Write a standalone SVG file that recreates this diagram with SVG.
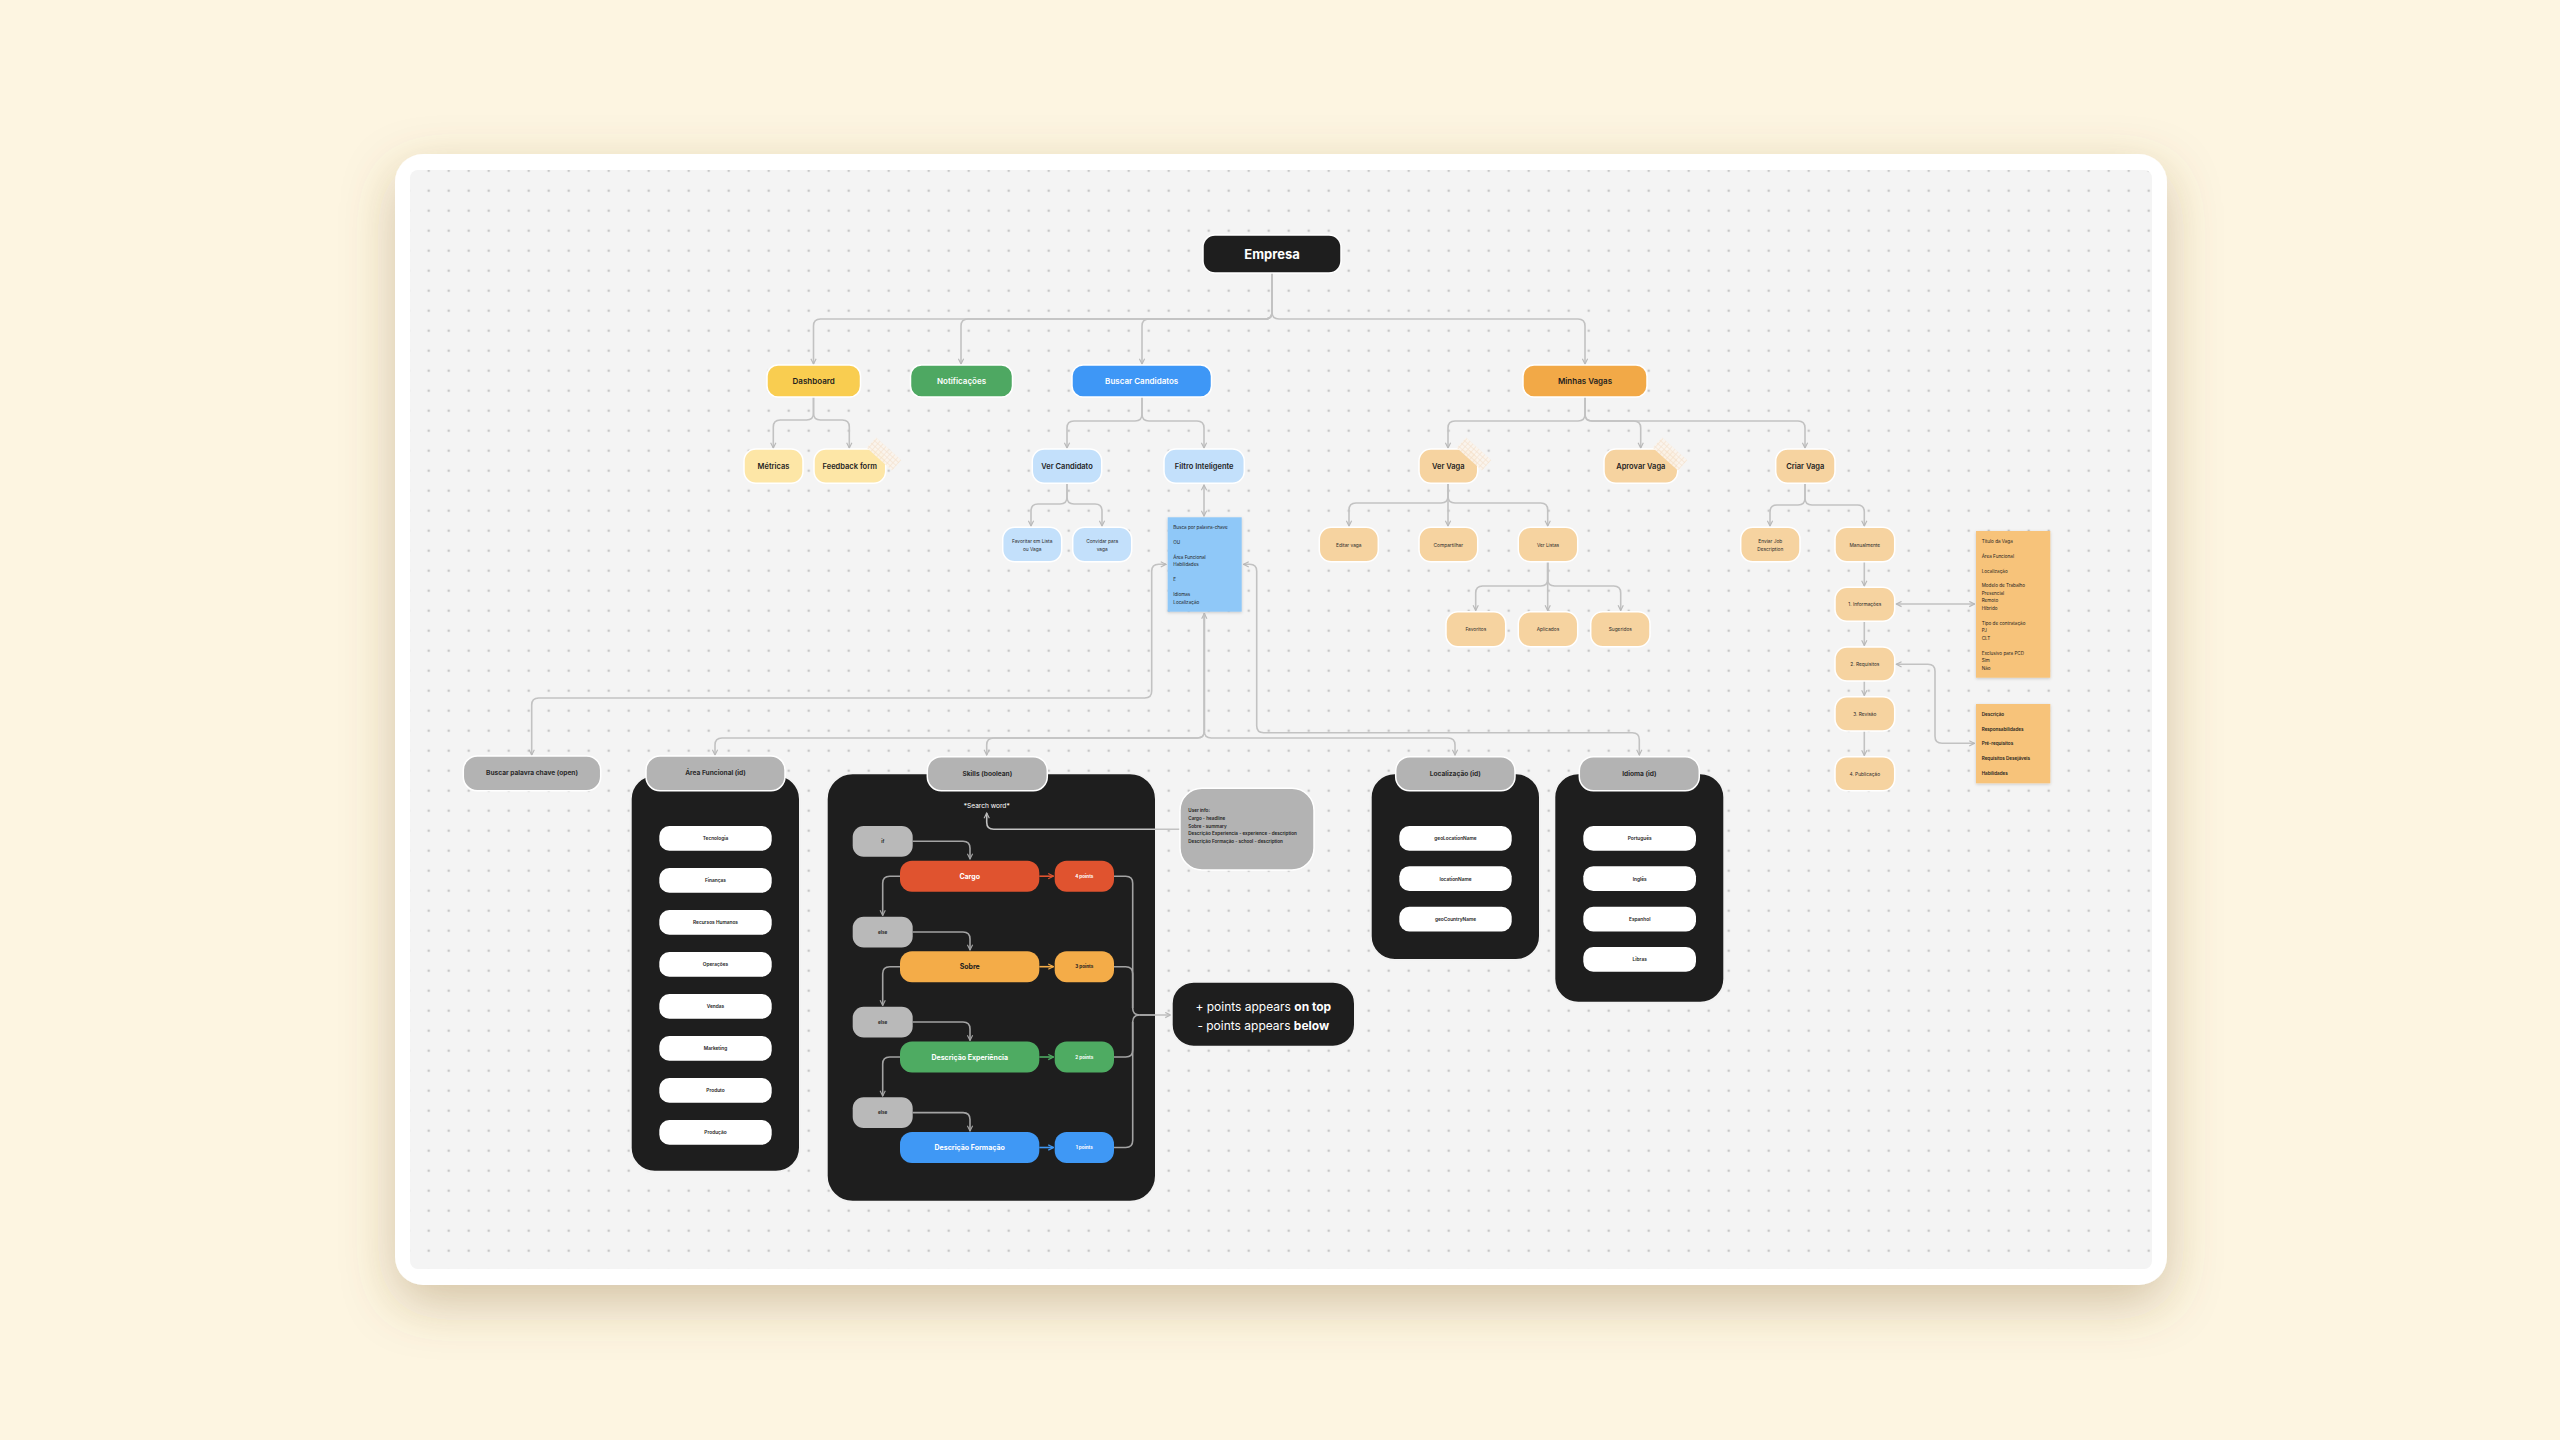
<svg xmlns="http://www.w3.org/2000/svg" width="2560" height="1440" viewBox="0 0 2560 1440">
<defs>
<style>
text{font-family:Inter,"Noto Sans","Liberation Sans",sans-serif;dominant-baseline:central}
.c{fill:none;stroke:#c2c2c2;stroke-width:1.6}
.ci{fill:none;stroke:#a3a3a3;stroke-width:1.6}
.nd{stroke:#ffffff;stroke-width:1.5}
.t0{font-size:13px;font-weight:700;fill:#ffffff;text-anchor:middle}
.t1{font-size:8px;font-weight:600;text-anchor:middle}
.t2{font-size:7.5px;font-weight:600;fill:#1e1e1e;text-anchor:middle}
.t3{font-size:4.8px;fill:#2a2a2a;text-anchor:middle}
.th{font-size:6.6px;font-weight:700;fill:#2b2b2b;text-anchor:middle}
.ti{font-size:4.8px;font-weight:600;fill:#222;text-anchor:middle}
.ts{font-size:7px;font-weight:700;fill:#ffffff;text-anchor:middle}
.tp{font-size:4.6px;font-weight:700;fill:#ffffff;text-anchor:middle}
.te{font-size:4.6px;font-weight:700;fill:#2a2a2a;text-anchor:middle}
.tn{font-size:4.6px;fill:#1e1e1e}
.tb{font-size:4.6px;font-weight:600;fill:#1e1e1e}
.lt{fill:#fde6a6}
.lb{fill:#c3e0fb}
.lo{fill:#f6d3a0}
.hd{fill:#b3b3b3}
.bk{fill:#1e1e1e;stroke:#f2f2f2;stroke-width:2}
.wp{fill:#ffffff}
.gp{fill:#b9b9b9}
</style>
<pattern id="dots" x="418.7" y="160.7" width="20" height="20" patternUnits="userSpaceOnUse"><circle cx="10" cy="10" r="1.3" fill="#c6c6c6"/></pattern>
<pattern id="tapeP" width="4" height="4" patternUnits="userSpaceOnUse"><rect width="4" height="4" fill="#fbf4ec"/><path d="M0,0.5H4M0.5,0V4" stroke="#f3e0cb" stroke-width="0.7"/></pattern>
<filter id="fs" x="-10%" y="-10%" width="120%" height="130%"><feDropShadow dx="0" dy="18" stdDeviation="26" flood-color="#7a5a2a" flood-opacity="0.32"/></filter>
<filter id="ns" x="-20%" y="-20%" width="140%" height="140%"><feDropShadow dx="0" dy="1" stdDeviation="1.5" flood-color="#000" flood-opacity="0.18"/></filter>
<marker id="ar" viewBox="0 0 8 8" refX="7" refY="4" markerWidth="7" markerHeight="7" markerUnits="userSpaceOnUse" orient="auto-start-reverse"><path d="M1,1 L7,4 L1,7" fill="none" stroke="#b8b8b8" stroke-width="1.3"/></marker>
<marker id="ai" viewBox="0 0 8 8" refX="7" refY="4" markerWidth="7" markerHeight="7" markerUnits="userSpaceOnUse" orient="auto-start-reverse"><path d="M1,1 L7,4 L1,7" fill="none" stroke="#a3a3a3" stroke-width="1.3"/></marker>
<marker id="aR" viewBox="0 0 8 8" refX="7" refY="4" markerWidth="7" markerHeight="7" markerUnits="userSpaceOnUse" orient="auto"><path d="M1,1 L7,4 L1,7" fill="none" stroke="#e0532f" stroke-width="1.3"/></marker>
<marker id="aO" viewBox="0 0 8 8" refX="7" refY="4" markerWidth="7" markerHeight="7" markerUnits="userSpaceOnUse" orient="auto"><path d="M1,1 L7,4 L1,7" fill="none" stroke="#f4ac48" stroke-width="1.3"/></marker>
<marker id="aG" viewBox="0 0 8 8" refX="7" refY="4" markerWidth="7" markerHeight="7" markerUnits="userSpaceOnUse" orient="auto"><path d="M1,1 L7,4 L1,7" fill="none" stroke="#4eab62" stroke-width="1.3"/></marker>
<marker id="aB" viewBox="0 0 8 8" refX="7" refY="4" markerWidth="7" markerHeight="7" markerUnits="userSpaceOnUse" orient="auto"><path d="M1,1 L7,4 L1,7" fill="none" stroke="#3f98f5" stroke-width="1.3"/></marker>
</defs>

<rect width="2560" height="1440" fill="#fdf5e1"/>
<rect x="395" y="154" width="1772" height="1131" rx="28" fill="#ffffff" filter="url(#fs)"/>
<rect x="410" y="170" width="1742" height="1099" rx="8" fill="#f4f4f4"/>
<rect x="410" y="170" width="1742" height="1099" rx="8" fill="url(#dots)"/>

<!-- black containers (behind connectors) -->
<g id="skills-box"><rect class="bk" x="826.7" y="773.3" width="329.3" height="428.4" rx="26"/></g>
<g id="area-box"><rect class="bk" x="630.7" y="775" width="169.3" height="396.7" rx="24"/></g>
<g id="loc-box"><rect class="bk" x="1370.7" y="773.3" width="169.3" height="186.7" rx="24"/></g>
<g id="idioma-box"><rect class="bk" x="1554.3" y="773.3" width="170" height="229.4" rx="24"/></g>

<g id="connectors">
<path class="c" marker-end="url(#ar)" d="M1272,273 V312 Q1272,319 1265,319 H820.5 Q813.5,319 813.5,326 V364"/>
<path class="c" marker-end="url(#ar)" d="M1272,273 V312 Q1272,319 1265,319 H968 Q961,319 961,326 V364"/>
<path class="c" marker-end="url(#ar)" d="M1272,273 V312 Q1272,319 1265,319 H1149 Q1142,319 1142,326 V364"/>
<path class="c" marker-end="url(#ar)" d="M1272,273 V312 Q1272,319 1279,319 H1578 Q1585,319 1585,326 V364"/>

<path class="c" marker-end="url(#ar)" d="M813.5,397 V413 Q813.5,420 806.5,420 H780.3 Q773.3,420 773.3,427 V448"/>
<path class="c" marker-end="url(#ar)" d="M813.5,397 V413 Q813.5,420 820.5,420 H842.3 Q849.3,420 849.3,427 V448"/>

<path class="c" marker-end="url(#ar)" d="M1142,397 V414 Q1142,421 1135,421 H1074 Q1067,421 1067,428 V448"/>
<path class="c" marker-end="url(#ar)" d="M1142,397 V414 Q1142,421 1149,421 H1197 Q1204,421 1204,428 V448"/>
<path class="c" marker-end="url(#ar)" d="M1067,483.3 V497 Q1067,504 1060,504 H1038 Q1031,504 1031,511 V526"/>
<path class="c" marker-end="url(#ar)" d="M1067,483.3 V497 Q1067,504 1074,504 H1095 Q1102,504 1102,511 V526"/>
<path class="c" marker-start="url(#ar)" marker-end="url(#ar)" d="M1204,485 V516"/>

<path class="c" marker-start="url(#ar)" marker-end="url(#ar)" d="M1166,564.3 H1158.7 Q1151.7,564.3 1151.7,571.3 V691 Q1151.7,698 1144.7,698 H538.7 Q531.7,698 531.7,705 V755"/>
<path class="c" marker-start="url(#ar)" marker-end="url(#ar)" d="M1204.3,613.5 V731 Q1204.3,738 1197.3,738 H722 Q715,738 715,745 V755"/>
<path class="c" marker-end="url(#ar)" d="M1204.3,613.5 V731 Q1204.3,738 1197.3,738 H993.7 Q986.7,738 986.7,745 V755"/>
<path class="c" marker-end="url(#ar)" d="M1204.3,613.5 V731 Q1204.3,738 1211.3,738 H1448 Q1455,738 1455,745 V755"/>
<path class="c" marker-start="url(#ar)" marker-end="url(#ar)" d="M1243.5,564.3 H1249.7 Q1256.7,564.3 1256.7,571.3 V725.7 Q1256.7,732.7 1263.7,732.7 H1632.3 Q1639.3,732.7 1639.3,739.7 V755"/>

<path class="c" marker-end="url(#ar)" d="M1585,397 V414 Q1585,421 1578,421 H1455 Q1448,421 1448,428 V448"/>
<path class="c" marker-end="url(#ar)" d="M1585,397 V414 Q1585,421 1592,421 H1633.7 Q1640.7,421 1640.7,428 V448"/>
<path class="c" marker-end="url(#ar)" d="M1585,397 V414 Q1585,421 1592,421 H1798 Q1805,421 1805,428 V448"/>
<path class="c" marker-end="url(#ar)" d="M1448,483.3 V496 Q1448,503 1441,503 H1356 Q1349,503 1349,510 V526"/>
<path class="c" marker-end="url(#ar)" d="M1448,483.3 V526"/>
<path class="c" marker-end="url(#ar)" d="M1448,483.3 V496 Q1448,503 1455,503 H1540.7 Q1547.7,503 1547.7,510 V526"/>
<path class="c" marker-end="url(#ar)" d="M1547.7,561.7 V579 Q1547.7,586 1540.7,586 H1482.7 Q1475.7,586 1475.7,593 V610.5"/>
<path class="c" marker-end="url(#ar)" d="M1547.7,561.7 V610.5"/>
<path class="c" marker-end="url(#ar)" d="M1547.7,561.7 V579 Q1547.7,586 1554.7,586 H1613.7 Q1620.7,586 1620.7,593 V610.5"/>

<path class="c" marker-end="url(#ar)" d="M1805,483.3 V498 Q1805,505 1798,505 H1777 Q1770,505 1770,512 V526"/>
<path class="c" marker-end="url(#ar)" d="M1805,483.3 V498 Q1805,505 1812,505 H1857.3 Q1864.3,505 1864.3,512 V526"/>
<path class="c" marker-end="url(#ar)" d="M1864.3,561.7 V586"/>
<path class="c" marker-end="url(#ar)" d="M1864.3,621.3 V645.5"/>
<path class="c" marker-end="url(#ar)" d="M1864.3,681 V695.5"/>
<path class="c" marker-end="url(#ar)" d="M1864.3,731 V755.5"/>
<path class="c" marker-start="url(#ar)" marker-end="url(#ar)" d="M1974.5,604 H1896.3"/>
<path class="c" marker-start="url(#ar)" marker-end="url(#ar)" d="M1974.5,743.3 H1942 Q1935,743.3 1935,736.3 V671.3 Q1935,664.3 1928,664.3 H1896.3"/>

<path class="c" marker-end="url(#ar)" d="M1180,829.3 H993.7 Q986.7,829.3 986.7,822.3 V813"/>

<path class="ci" marker-end="url(#ai)" d="M912.7,841.3 H963 Q970,841.3 970,848.3 V859"/>
<path class="ci" marker-end="url(#ai)" d="M912.7,932 H963 Q970,932 970,939 V950"/>
<path class="ci" marker-end="url(#ai)" d="M912.7,1022 H963 Q970,1022 970,1029 V1040.5"/>
<path class="ci" marker-end="url(#ai)" d="M912.7,1112.6 H963 Q970,1112.6 970,1119.6 V1131"/>
<path class="ci" marker-end="url(#ai)" d="M900,876.2 H889.7 Q882.7,876.2 882.7,883.2 V915.5"/>
<path class="ci" marker-end="url(#ai)" d="M900,966.7 H889.7 Q882.7,966.7 882.7,973.7 V1005.5"/>
<path class="ci" marker-end="url(#ai)" d="M900,1057 H889.7 Q882.7,1057 882.7,1064 V1096"/>
<path fill="none" stroke="#e0532f" stroke-width="1.6" marker-end="url(#aR)" d="M1039.3,876.2 H1053.5"/>
<path fill="none" stroke="#f4ac48" stroke-width="1.6" marker-end="url(#aO)" d="M1039.3,966.7 H1053.5"/>
<path fill="none" stroke="#4eab62" stroke-width="1.6" marker-end="url(#aG)" d="M1039.3,1057 H1053.5"/>
<path fill="none" stroke="#3f98f5" stroke-width="1.6" marker-end="url(#aB)" d="M1039.3,1147.5 H1053.5"/>
<path class="ci" d="M1114,876.2 H1125.7 Q1132.7,876.2 1132.7,883.2 V1008 Q1132.7,1015 1139.7,1015"/>
<path class="ci" d="M1114,966.7 H1125.7 Q1132.7,966.7 1132.7,973.7 V1008"/>
<path class="ci" d="M1114,1057 H1125.7 Q1132.7,1057 1132.7,1050 V1022 Q1132.7,1015 1139.7,1015"/>
<path class="ci" d="M1114,1147.5 H1125.7 Q1132.7,1147.5 1132.7,1140.5 V1022"/>
<path class="c" marker-end="url(#ar)" d="M1139.7,1015 H1170.5"/>
</g>

<g id="empresa"><rect x="1203" y="235" width="138" height="38" rx="12" fill="#1e1e1e" class="nd"/><text class="t0" x="1272" y="254">Empresa</text></g>

<g id="dashboard"><rect class="nd" x="767" y="365" width="93.5" height="32" rx="11" fill="#f9cd50"/><text class="t1" x="813.7" y="381" fill="#1e1e1e">Dashboard</text></g>
<g id="notificacoes"><rect class="nd" x="910.5" y="365" width="102" height="32" rx="11" fill="#4ea862"/><text class="t1" x="961.5" y="381" fill="#ffffff">Notificações</text></g>
<g id="buscar-candidatos"><rect class="nd" x="1072" y="365" width="139.5" height="32" rx="11" fill="#3e97f6"/><text class="t1" x="1141.7" y="381" fill="#ffffff">Buscar Candidatos</text></g>
<g id="minhas-vagas"><rect class="nd" x="1523" y="365" width="124" height="32" rx="11" fill="#f2a947"/><text class="t1" x="1585" y="381" fill="#1e1e1e">Minhas Vagas</text></g>

<g id="metricas"><rect class="lt nd" x="744" y="449" width="59" height="34.3" rx="12"/><text class="t2" x="773.5" y="466">Métricas</text></g>
<g id="feedback-form"><rect class="lt nd" x="814" y="449" width="71.7" height="34.3" rx="12"/><text class="t2" x="849.8" y="466">Feedback form</text><rect x="-17" y="-7" width="34" height="14" fill="url(#tapeP)" opacity="0.9" transform="translate(884,454) rotate(42)"/></g>

<g id="ver-candidato"><rect class="lb nd" x="1032.3" y="449" width="69.4" height="34.3" rx="12"/><text class="t2" x="1067" y="466">Ver Candidato</text></g>
<g id="filtro-inteligente"><rect class="lb nd" x="1164" y="449" width="80.3" height="34.3" rx="12"/><text class="t2" x="1204.2" y="466">Filtro Inteligente</text></g>
<g id="favoritar"><rect class="lb nd" x="1002.7" y="527.3" width="59" height="34.4" rx="12"/><text class="t3" x="1032.2" y="540.7">Favoritar em Lista</text><text class="t3" x="1032.2" y="548.5">ou Vaga</text></g>
<g id="convidar"><rect class="lb nd" x="1072.7" y="527.3" width="59" height="34.4" rx="12"/><text class="t3" x="1102.2" y="540.7">Convidar para</text><text class="t3" x="1102.2" y="548.5">vaga</text></g>

<g id="filtro-nota"><rect x="1167.7" y="517.3" width="74" height="94.4" fill="#8fc8f8" filter="url(#ns)"/>
<text class="tn" x="1173.3" y="527.3">Busca por palavra-chave</text>
<text class="tn" x="1173.3" y="542.3">OU</text>
<text class="tn" x="1173.3" y="557">Área Funcional</text>
<text class="tn" x="1173.3" y="564.7">Habilidades</text>
<text class="tn" x="1173.3" y="579.7">E</text>
<text class="tn" x="1173.3" y="594.7">Idiomas</text>
<text class="tn" x="1173.3" y="602">Localização</text></g>

<g id="ver-vaga"><rect class="lo nd" x="1419" y="449" width="58.7" height="34.3" rx="12"/><text class="t2" x="1448.3" y="466">Ver Vaga</text><rect x="-17" y="-7" width="34" height="14" fill="url(#tapeP)" opacity="0.9" transform="translate(1474,454) rotate(42)"/></g>
<g id="aprovar-vaga"><rect class="lo nd" x="1604" y="449" width="73.7" height="34.3" rx="12"/><text class="t2" x="1640.8" y="466">Aprovar Vaga</text><rect x="-17" y="-7" width="34" height="14" fill="url(#tapeP)" opacity="0.9" transform="translate(1670,454) rotate(42)"/></g>
<g id="criar-vaga"><rect class="lo nd" x="1775.7" y="449" width="59.3" height="34.3" rx="12"/><text class="t2" x="1805.3" y="466">Criar Vaga</text></g>

<g id="editar-vaga"><rect class="lo nd" x="1319.3" y="527.3" width="59" height="34.4" rx="12"/><text class="t3" x="1348.8" y="544.5">Editar vaga</text></g>
<g id="compartilhar"><rect class="lo nd" x="1419" y="527.3" width="58.7" height="34.4" rx="12"/><text class="t3" x="1448.3" y="544.5">Compartilhar</text></g>
<g id="ver-listas"><rect class="lo nd" x="1518.3" y="527.3" width="59.4" height="34.4" rx="12"/><text class="t3" x="1548" y="544.5">Ver Listas</text></g>
<g id="favoritos"><rect class="lo nd" x="1446" y="611.7" width="59.7" height="35" rx="12"/><text class="t3" x="1475.8" y="629.2">Favoritos</text></g>
<g id="aplicados"><rect class="lo nd" x="1518.3" y="611.7" width="59.4" height="35" rx="12"/><text class="t3" x="1548" y="629.2">Aplicados</text></g>
<g id="sugeridos"><rect class="lo nd" x="1590.7" y="611.7" width="59.3" height="35" rx="12"/><text class="t3" x="1620.3" y="629.2">Sugeridos</text></g>

<g id="enviar-jd"><rect class="lo nd" x="1740.7" y="527.3" width="59.3" height="34.4" rx="12"/><text class="t3" x="1770.3" y="540.7">Enviar Job</text><text class="t3" x="1770.3" y="548.5">Description</text></g>
<g id="manualmente"><rect class="lo nd" x="1835" y="527.3" width="59.7" height="34.4" rx="12"/><text class="t3" x="1864.8" y="544.5">Manualmente</text></g>
<g id="informacoes"><rect class="lo nd" x="1835" y="587.3" width="59.7" height="34" rx="12"/><text class="t3" x="1864.8" y="604.3">1. Informações</text></g>
<g id="requisitos"><rect class="lo nd" x="1835" y="647" width="59.7" height="34" rx="12"/><text class="t3" x="1864.8" y="664">2. Requisitos</text></g>
<g id="revisao"><rect class="lo nd" x="1835" y="696.7" width="59.7" height="34.3" rx="12"/><text class="t3" x="1864.8" y="713.8">3. Revisão</text></g>
<g id="publicacao"><rect class="lo nd" x="1835" y="756.7" width="59.7" height="34" rx="12"/><text class="t3" x="1864.8" y="773.7">4. Publicação</text></g>

<g id="nota-informacoes"><rect x="1976" y="531" width="74.3" height="146.7" fill="#f7c37a" filter="url(#ns)"/>
<text class="tn" x="1981.7" y="541">Título da Vaga</text>
<text class="tn" x="1981.7" y="556">Área Funcional</text>
<text class="tn" x="1981.7" y="571">Localização</text>
<text class="tn" x="1981.7" y="585.7">Modelo de Trabalho</text>
<text class="tn" x="1981.7" y="593.3">Presencial</text>
<text class="tn" x="1981.7" y="600.7">Remoto</text>
<text class="tn" x="1981.7" y="608.3">Híbrido</text>
<text class="tn" x="1981.7" y="623.3">Tipo de contratação</text>
<text class="tn" x="1981.7" y="630.7">PJ</text>
<text class="tn" x="1981.7" y="638.3">CLT</text>
<text class="tn" x="1981.7" y="653">Exclusivo para PCD</text>
<text class="tn" x="1981.7" y="660.3">Sim</text>
<text class="tn" x="1981.7" y="668">Não</text></g>
<g id="nota-requisitos"><rect x="1976" y="704" width="74.3" height="79.3" fill="#f7c37a" filter="url(#ns)"/>
<text class="tb" x="1981.7" y="714">Descrição</text>
<text class="tb" x="1981.7" y="729">Responsabilidades</text>
<text class="tb" x="1981.7" y="743.7">Pré-requisitos</text>
<text class="tb" x="1981.7" y="758.7">Requisitos Desejáveis</text>
<text class="tb" x="1981.7" y="773.7">Habilidades</text></g>

<g id="buscar-palavra-chave"><rect class="hd nd" x="463.3" y="756" width="137.4" height="34.7" rx="14"/><text class="th" x="532" y="773.3">Buscar palavra chave (open)</text></g>

<g id="area-funcional"><rect class="hd nd" x="646" y="756" width="139" height="34.7" rx="14"/><text class="th" x="715.5" y="773.3">Área Funcional (id)</text>
<rect class="wp" x="659.3" y="826" width="112.4" height="24.7" rx="10"/><text class="ti" x="715.5" y="838.3">Tecnologia</text>
<rect class="wp" x="659.3" y="868" width="112.4" height="24.7" rx="10"/><text class="ti" x="715.5" y="880.3">Finanças</text>
<rect class="wp" x="659.3" y="910" width="112.4" height="24.7" rx="10"/><text class="ti" x="715.5" y="922.3">Recursos Humanos</text>
<rect class="wp" x="659.3" y="952" width="112.4" height="24.7" rx="10"/><text class="ti" x="715.5" y="964.3">Operações</text>
<rect class="wp" x="659.3" y="994" width="112.4" height="24.7" rx="10"/><text class="ti" x="715.5" y="1006.3">Vendas</text>
<rect class="wp" x="659.3" y="1036" width="112.4" height="24.7" rx="10"/><text class="ti" x="715.5" y="1048.3">Marketing</text>
<rect class="wp" x="659.3" y="1078" width="112.4" height="24.7" rx="10"/><text class="ti" x="715.5" y="1090.3">Produto</text>
<rect class="wp" x="659.3" y="1120" width="112.4" height="24.7" rx="10"/><text class="ti" x="715.5" y="1132.3">Produção</text></g>

<g id="skills"><rect class="hd nd" x="927.3" y="756.7" width="120" height="34" rx="14"/><text class="th" x="987.3" y="773.7">Skills (boolean)</text>
<text x="986.7" y="806" font-size="6.6" fill="#ffffff" text-anchor="middle">*Search word*</text>
<rect class="gp" x="852.7" y="826" width="60" height="30.7" rx="11"/><text class="te" x="882.7" y="841.3">if</text>
<rect x="900" y="860.7" width="139.3" height="31" rx="12" fill="#e0532f"/><text class="ts" x="969.7" y="876.2">Cargo</text>
<rect x="1054.7" y="860.7" width="59.3" height="31" rx="12" fill="#e0532f"/><text class="tp" x="1084.3" y="876.2">4 points</text>
<rect class="gp" x="852.7" y="916.7" width="60" height="30.7" rx="11"/><text class="te" x="882.7" y="932">else</text>
<rect x="900" y="951.2" width="139.3" height="31" rx="12" fill="#f4ac48"/><text class="ts" x="969.7" y="966.7" style="fill:#1e1e1e">Sobre</text>
<rect x="1054.7" y="951.2" width="59.3" height="31" rx="12" fill="#f4ac48"/><text class="tp" x="1084.3" y="966.7" style="fill:#1e1e1e">3 points</text>
<rect class="gp" x="852.7" y="1006.7" width="60" height="30.7" rx="11"/><text class="te" x="882.7" y="1022">else</text>
<rect x="900" y="1041.5" width="139.3" height="31" rx="12" fill="#4eab62"/><text class="ts" x="969.7" y="1057">Descrição Experiência</text>
<rect x="1054.7" y="1041.5" width="59.3" height="31" rx="12" fill="#4eab62"/><text class="tp" x="1084.3" y="1057">2 points</text>
<rect class="gp" x="852.7" y="1097.3" width="60" height="30.7" rx="11"/><text class="te" x="882.7" y="1112.6">else</text>
<rect x="900" y="1132" width="139.3" height="31" rx="12" fill="#3f98f5"/><text class="ts" x="969.7" y="1147.5">Descrição Formação</text>
<rect x="1054.7" y="1132" width="59.3" height="31" rx="12" fill="#3f98f5"/><text class="tp" x="1084.3" y="1147.5">1 points</text></g>

<g id="user-info"><rect x="1180" y="788.3" width="134" height="81.7" rx="22" fill="#b3b3b3" class="nd"/>
<text class="tb" x="1188.3" y="810.7">User info:</text>
<text class="tb" x="1188.3" y="818.3">Cargo - headline</text>
<text class="tb" x="1188.3" y="826">Sobre - summary</text>
<text class="tb" x="1188.3" y="833.3">Descrição Experiencia - experience - description</text>
<text class="tb" x="1188.3" y="841">Descrição Formação - school - description</text></g>

<g id="points-note"><rect x="1171.7" y="981.7" width="183.3" height="65" rx="22" fill="#1e1e1e" stroke="#f2f2f2" stroke-width="2"/>
<text x="1263.3" y="1006.2" font-size="12" fill="#ffffff" text-anchor="middle">+ points appears <tspan font-weight="700">on top</tspan></text>
<text x="1263.3" y="1025" font-size="12" fill="#ffffff" text-anchor="middle">- points appears <tspan font-weight="700">below</tspan></text></g>

<g id="localizacao"><rect class="hd nd" x="1395.7" y="756.7" width="119.3" height="34" rx="14"/><text class="th" x="1455.3" y="773.7">Localização (id)</text>
<rect class="wp" x="1399.3" y="826" width="112.4" height="24.7" rx="10"/><text class="ti" x="1455.5" y="838.3">geoLocationName</text>
<rect class="wp" x="1399.3" y="866.3" width="112.4" height="24.7" rx="10"/><text class="ti" x="1455.5" y="878.6">locationName</text>
<rect class="wp" x="1399.3" y="906.7" width="112.4" height="24.7" rx="10"/><text class="ti" x="1455.5" y="919">geoCountryName</text></g>

<g id="idioma"><rect class="hd nd" x="1579.3" y="756.7" width="120" height="34" rx="14"/><text class="th" x="1639.3" y="773.7">Idioma (id)</text>
<rect class="wp" x="1583.3" y="826" width="112.7" height="24.7" rx="10"/><text class="ti" x="1639.7" y="838.3">Português</text>
<rect class="wp" x="1583.3" y="866.3" width="112.7" height="24.7" rx="10"/><text class="ti" x="1639.7" y="878.6">Inglês</text>
<rect class="wp" x="1583.3" y="906.7" width="112.7" height="24.7" rx="10"/><text class="ti" x="1639.7" y="919">Espanhol</text>
<rect class="wp" x="1583.3" y="947" width="112.7" height="24.7" rx="10"/><text class="ti" x="1639.7" y="959.3">Libras</text></g>
</svg>
